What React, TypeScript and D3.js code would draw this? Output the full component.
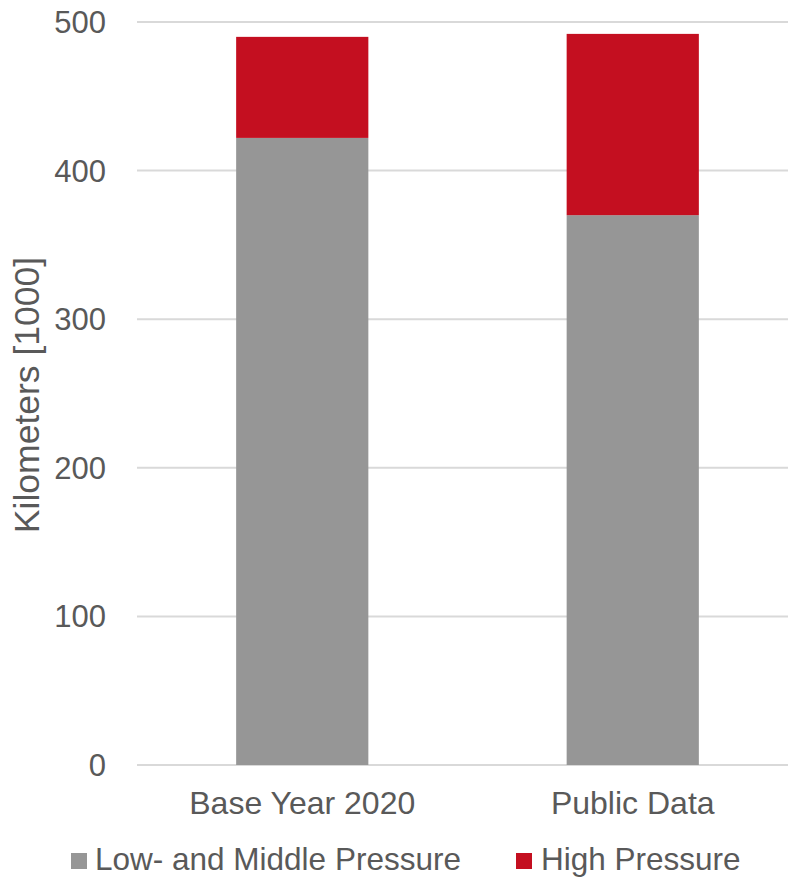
import React from "react";
import * as d3 from "d3";

// Network length by pressure level, in thousand kilometres
const categories = ["Base Year 2020", "Public Data"];
const lowMiddlePressure = [422, 370];
const highPressure = [68, 122];
const seriesNames = ["Low- and Middle Pressure", "High Pressure"];
const seriesColors = ["#969696", "#C40F20"];
const yTicks = [0, 100, 200, 300, 400, 500];

const W = 788;
const H = 878;
const FONT = "'Liberation Sans', Arial, sans-serif";
const TEXT = "#595959";
const GRID = "#d9d9d9";

export default function App() {
  const x = d3
    .scaleBand<string>()
    .domain(categories)
    .range([137, 798])
    .paddingInner(0.6)
    .paddingOuter(0.3);
  const y = d3.scaleLinear().domain([0, 500]).range([765, 22]);

  const rows = categories.map((c, i) => ({
    category: c,
    low: lowMiddlePressure[i],
    high: highPressure[i],
  }));
  const stack = d3.stack<any>().keys(["low", "high"])(rows);

  const legend = [
    { name: seriesNames[0], color: seriesColors[0], sx: 71, tx: 95 },
    { name: seriesNames[1], color: seriesColors[1], sx: 516, tx: 541 },
  ];

  return (
    <svg
      width={W}
      height={H}
      style={{ position: "absolute", left: 0, top: 0, background: "#fff" }}
      fontFamily={FONT}
    >
      {yTicks.map((t) => (
        <g key={t}>
          <line x1={137} x2={W} y1={y(t)} y2={y(t)} stroke={GRID} strokeWidth={2} />
          <text x={106} y={y(t) + 11} textAnchor="end" fontSize={31} fill={TEXT}>
            {t}
          </text>
        </g>
      ))}

      {stack.map((layer, si) => (
        <g key={layer.key} fill={seriesColors[si]}>
          {layer.map((d, i) => (
            <rect
              key={i}
              x={x(categories[i])}
              width={x.bandwidth()}
              y={y(d[1])}
              height={y(d[0]) - y(d[1])}
            />
          ))}
        </g>
      ))}

      {categories.map((c) => (
        <text
          key={c}
          x={(x(c) as number) + x.bandwidth() / 2}
          y={814}
          textAnchor="middle"
          fontSize={32}
          fill={TEXT}
        >
          {c}
        </text>
      ))}

      <text
        transform={`translate(39, 395) rotate(-90)`}
        textAnchor="middle"
        fontSize={35.5}
        fill={TEXT}
      >
        Kilometers [1000]
      </text>

      {legend.map((l) => (
        <g key={l.name}>
          <rect x={l.sx} y={853} width={16} height={16} fill={l.color} />
          <text x={l.tx} y={870} fontSize={31.5} fill={TEXT}>
            {l.name}
          </text>
        </g>
      ))}
    </svg>
  );
}
